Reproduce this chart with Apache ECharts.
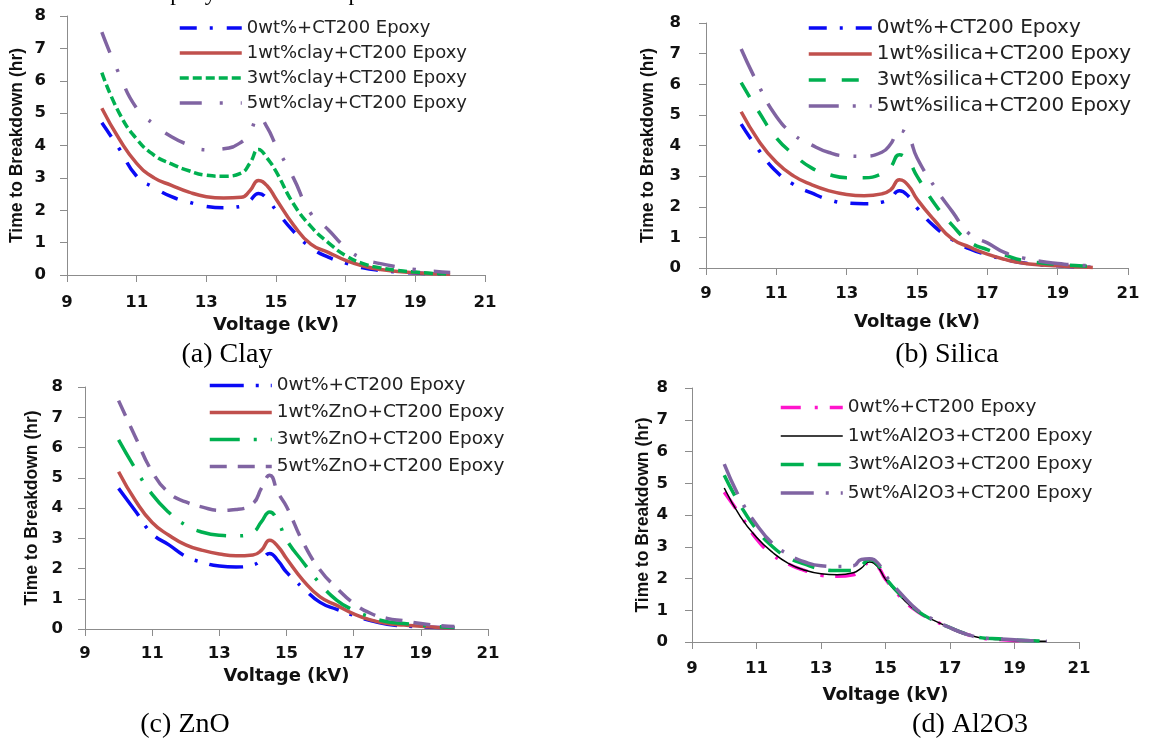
<!DOCTYPE html>
<html><head><meta charset="utf-8">
<script src="https://cdn.jsdelivr.net/npm/echarts@6/dist/echarts.min.js"></script>
<style>html,body{margin:0;padding:0;background:#fff}#c{width:1151px;height:739px}</style>
</head><body><div id="c"></div>
<script>
// ---------- DATA ----------
const voltage = [10, 10.5, 11, 11.5, 12, 12.5, 13, 13.5, 14, 14.25, 14.5, 14.75, 15, 15.5, 16, 16.5, 17, 17.5, 18, 18.5, 19, 19.5, 20];
const xTickRange = [9, 21, 2];
const yTickRange = [0, 8, 1];

// (a) Clay
const clayNames = ['0wt%+CT200 Epoxy', '1wt%clay+CT200 Epoxy', '3wt%clay+CT200 Epoxy', '5wt%clay+CT200 Epoxy'];
const clay0 = [4.7, 3.9, 3.05, 2.7, 2.42, 2.25, 2.12, 2.08, 2.12, 2.3, 2.52, 2.35, 2.0, 1.35, 0.85, 0.55, 0.37, 0.22, 0.14, 0.09, 0.06, 0.04, 0.02];
const clay1 = [5.15, 4.2, 3.45, 3.0, 2.77, 2.56, 2.42, 2.38, 2.4, 2.6, 2.92, 2.75, 2.35, 1.55, 0.95, 0.7, 0.45, 0.28, 0.17, 0.11, 0.07, 0.04, 0.02];
const clay3 = [6.25, 5.0, 4.2, 3.7, 3.43, 3.22, 3.08, 3.05, 3.15, 3.45, 3.88, 3.6, 3.2, 2.2, 1.5, 1.0, 0.6, 0.35, 0.22, 0.14, 0.09, 0.05, 0.03];
const clay5 = [7.5, 6.2, 5.15, 4.65, 4.27, 4.02, 3.87, 3.9, 4.1, 4.4, 4.9, 4.55, 4.0, 3.0, 1.9, 1.4, 0.85, 0.5, 0.35, 0.25, 0.17, 0.12, 0.08];

// (b) Silica
const silicaNames = ['0wt%+CT200 Epoxy', '1wt%silica+CT200 Epoxy', '3wt%silica+CT200 Epoxy', '5wt%silica+CT200 Epoxy'];
const silica0 = [4.7, 3.85, 3.15, 2.72, 2.45, 2.23, 2.12, 2.1, 2.15, 2.3, 2.52, 2.35, 1.96, 1.35, 0.93, 0.62, 0.43, 0.28, 0.17, 0.1, 0.07, 0.04, 0.02];
const silica1 = [5.1, 4.15, 3.45, 3.0, 2.72, 2.52, 2.4, 2.36, 2.42, 2.55, 2.88, 2.7, 2.25, 1.55, 0.95, 0.68, 0.45, 0.28, 0.16, 0.1, 0.07, 0.04, 0.02];
const silica3 = [6.05, 5.1, 4.25, 3.7, 3.27, 3.05, 2.95, 2.95, 3.08, 3.3, 3.7, 3.5, 3.0, 2.1, 1.4, 0.85, 0.6, 0.42, 0.25, 0.17, 0.12, 0.08, 0.05];
const silica5 = [7.15, 5.95, 4.95, 4.35, 4.02, 3.77, 3.66, 3.65, 3.78, 4.05, 4.5, 4.3, 3.6, 2.65, 1.85, 1.1, 0.82, 0.5, 0.33, 0.22, 0.15, 0.1, 0.07];

// (c) ZnO
const znoNames = ['0wt%+CT200 Epoxy', '1wt%ZnO+CT200 Epoxy', '3wt%ZnO+CT200 Epoxy', '5wt%ZnO+CT200 Epoxy'];
const zno0 = [4.65, 3.9, 3.15, 2.78, 2.4, 2.2, 2.08, 2.05, 2.12, 2.27, 2.5, 2.25, 1.88, 1.35, 0.88, 0.65, 0.45, 0.28, 0.16, 0.1, 0.07, 0.05, 0.03];
const zno1 = [5.2, 4.25, 3.52, 3.1, 2.78, 2.6, 2.48, 2.42, 2.45, 2.6, 2.93, 2.72, 2.33, 1.6, 1.06, 0.78, 0.5, 0.3, 0.18, 0.13, 0.09, 0.05, 0.03];
const zno3 = [6.25, 5.3, 4.45, 3.85, 3.43, 3.2, 3.1, 3.08, 3.2, 3.54, 3.87, 3.54, 2.95, 2.2, 1.5, 0.95, 0.62, 0.4, 0.24, 0.18, 0.12, 0.08, 0.05];
const zno5 = [7.55, 6.35, 5.2, 4.5, 4.2, 4.03, 3.92, 3.95, 4.15, 4.65, 5.08, 4.5, 4.05, 2.85, 1.95, 1.35, 0.85, 0.52, 0.35, 0.27, 0.18, 0.12, 0.08];

// (d) Al2O3
const alNames = ['0wt%+CT200 Epoxy', '1wt%Al2O3+CT200 Epoxy', '3wt%Al2O3+CT200 Epoxy', '5wt%Al2O3+CT200 Epoxy'];
const al0 = [4.72, 4.0, 3.25, 2.75, 2.45, 2.25, 2.1, 2.07, 2.12, 2.3, 2.5, 2.38, 1.98, 1.38, 0.95, 0.68, 0.45, 0.25, 0.12, 0.08, 0.05, 0.03, 0.02];
const al1 = [4.85, 3.95, 3.3, 2.82, 2.47, 2.26, 2.15, 2.12, 2.18, 2.33, 2.52, 2.38, 1.98, 1.4, 0.95, 0.68, 0.45, 0.25, 0.12, 0.08, 0.05, 0.03, 0.02];
const al3 = [5.25, 4.3, 3.55, 3.0, 2.65, 2.45, 2.3, 2.25, 2.25, 2.4, 2.6, 2.45, 2.02, 1.45, 0.97, 0.68, 0.45, 0.25, 0.13, 0.1, 0.07, 0.04, 0.02];
const al5 = [5.6, 4.5, 3.7, 3.1, 2.75, 2.52, 2.4, 2.38, 2.4, 2.6, 2.62, 2.5, 2.1, 1.5, 1.0, 0.7, 0.45, 0.25, 0.13, 0.1, 0.07, 0.04, 0.02];

const captions = ['(a) Clay', '(b) Silica', '(c) ZnO', '(d) Al2O3'];
const xName = 'Voltage (kV)';
const yName = 'Time to Breakdown (hr)';
const headText = 'epoxy and their composites';

// ---------- LAYOUT / STYLE ----------
const BLUE = '#0A0AF5', RED = '#C0504D', GREEN = '#00B050', PURPLE = '#8064A2', MAGENTA = '#FF14CC', BLACK = '#000000';
const panels = [
  { grid: {left: 67, top: 16, width: 418, height: 259}, names: clayNames, data: [clay0, clay1, clay3, clay5],
    colors: [BLUE, RED, GREEN, PURPLE], widths: [3.5, 3.5, 3.5, 3.5],
    dashes: [[17, 13, 3, 14], 'solid', [9, 4], [22, 18, 3, 18]],
    legend: {left: 178, top: 19, itemWidth: 62, fontSize: 18, gap: 7},
    xMargin: 19, yMargin: 21, xGap: 41, yGap: 41, caption: [227, 355] },
  { grid: {left: 706, top: 23, width: 422, height: 245}, names: silicaNames, data: [silica0, silica1, silica3, silica5],
    colors: [BLUE, RED, GREEN, PURPLE], widths: [3.5, 3.5, 3.5, 3.5],
    dashes: [[18, 13, 3, 13], 'solid', [17, 16], [30, 14, 3, 14]],
    legend: {left: 807, top: 18, itemWidth: 63, fontSize: 20, gap: 6},
    xMargin: 17, yMargin: 25, xGap: 45, yGap: 49, caption: [947, 355] },
  { grid: {left: 85, top: 387, width: 403, height: 242}, names: znoNames, data: [zno0, zno1, zno3, zno5],
    colors: [BLUE, RED, GREEN, PURPLE], widths: [3.5, 3.5, 3.5, 3.5],
    dashes: [[34, 12, 3, 12], 'solid', [30, 14, 3, 14], [17, 11]],
    legend: {left: 208, top: 376, itemWidth: 62, fontSize: 18.5, gap: 8},
    xMargin: 16, yMargin: 22, xGap: 38, yGap: 44, caption: [185, 725] },
  { grid: {left: 692, top: 388, width: 387, height: 254}, names: alNames, data: [al0, al1, al3, al5],
    colors: [MAGENTA, BLACK, GREEN, PURPLE], widths: [3.5, 1.5, 3.5, 3.5],
    dashes: [[20, 14, 3, 12], 'solid', [23, 14], [33, 12, 3, 12]],
    legend: {left: 779, top: 398, itemWidth: 62, fontSize: 18.5, gap: 9.5},
    xMargin: 18, yMargin: 24, xGap: 44, yGap: 40, caption: [970, 725] }
];

const AXIS_COLOR = '#8c8c8c';
const grids = [], xAxes = [], yAxes = [], series = [], legends = [], graphics = [];

panels.forEach((p, pi) => {
  grids.push(Object.assign({containLabel: false}, p.grid));
  xAxes.push({
    type: 'value', gridIndex: pi, min: xTickRange[0], max: xTickRange[1], interval: xTickRange[2],
    axisLine: {show: true, onZero: false, lineStyle: {color: AXIS_COLOR, width: 1}},
    axisTick: {show: true, length: 7, lineStyle: {color: AXIS_COLOR}},
    splitLine: {show: false},
    axisLabel: {fontFamily: 'DejaVu Sans', fontWeight: 'bold', fontSize: 16.5, color: '#111', margin: p.xMargin},
    name: xName, nameLocation: 'middle', nameGap: p.xGap,
    nameTextStyle: {fontFamily: 'DejaVu Sans', fontWeight: 'bold', fontSize: 18, color: '#111'}
  });
  yAxes.push({
    type: 'value', gridIndex: pi, min: yTickRange[0], max: yTickRange[1], interval: yTickRange[2],
    axisLine: {show: true, onZero: false, lineStyle: {color: AXIS_COLOR, width: 1}},
    axisTick: {show: true, length: 7, lineStyle: {color: AXIS_COLOR}},
    splitLine: {show: false},
    axisLabel: {fontFamily: 'DejaVu Sans', fontWeight: 'bold', fontSize: 16.5, color: '#111', margin: p.yMargin},
    name: yName, nameLocation: 'middle', nameGap: p.yGap,
    nameTextStyle: {fontFamily: 'Liberation Sans', fontWeight: 'bold', fontSize: 17.5, color: '#111'}
  });
  const legendData = [];
  p.names.forEach((n, si) => {
    const key = n + '#' + pi;
    series.push({
      type: 'line', name: key, xAxisIndex: pi, yAxisIndex: pi,
      data: voltage.map((v, k) => [v, p.data[si][k]]),
      symbol: 'none', showSymbol: false, smooth: 0.5,
      lineStyle: {color: p.colors[si], width: p.widths[si], type: p.dashes[si], cap: 'butt', join: 'round'},
      itemStyle: {color: p.colors[si]}, silent: true, animation: false, z: 2 + si
    });
    legendData.push({name: key, lineStyle: {width: p.widths[si]},
      itemStyle: {color: 'rgba(0,0,0,0)', borderWidth: 0, opacity: 0}});
  });
  legends.push({
    orient: 'vertical', left: p.legend.left, top: p.legend.top, padding: 0,
    itemWidth: p.legend.itemWidth, itemHeight: 14, itemGap: p.legend.gap,
    data: legendData, selectedMode: false,
    itemStyle: {color: 'rgba(0,0,0,0)', borderWidth: 0, opacity: 0},
    formatter: name => name.replace(/#\d$/, ''),
    textStyle: {fontFamily: 'DejaVu Sans', fontSize: p.legend.fontSize, lineHeight: p.legend.fontSize, color: '#222'}
  });
  graphics.push({
    type: 'text', x: p.caption[0], y: p.caption[1],
    style: {text: captions[pi], fontFamily: 'Liberation Serif', fontSize: 28, fill: '#000', textAlign: 'center', textVerticalAlign: 'middle'}
  });
});

graphics.push({
  type: 'text', x: 160, y: -6,
  style: {text: headText, fontFamily: 'Liberation Serif', fontSize: 23, fill: '#000', textAlign: 'left', textVerticalAlign: 'middle'}
});

const chart = echarts.init(document.getElementById('c'), null, {renderer: 'canvas'});
chart.setOption({
  animation: false,
  backgroundColor: '#ffffff',
  grid: grids, xAxis: xAxes, yAxis: yAxes, series: series, legend: legends, graphic: graphics
});
</script>
</body></html>
